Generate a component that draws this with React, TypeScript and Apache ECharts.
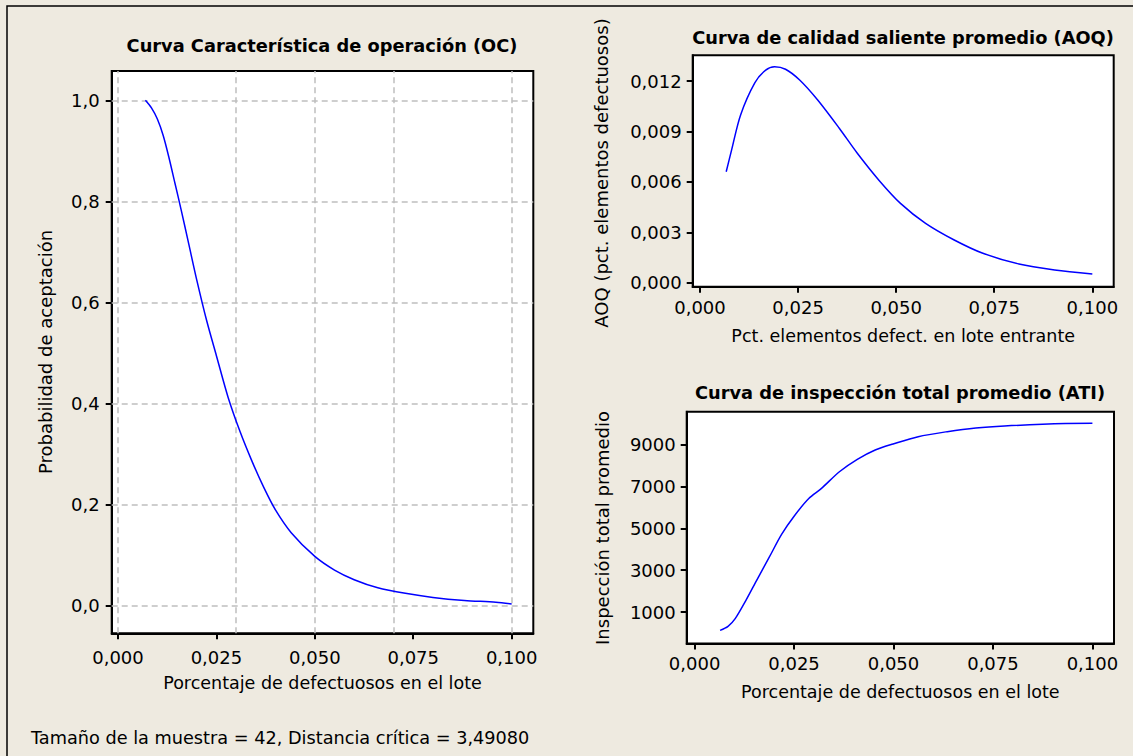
import React, { useEffect, useRef } from "react";
import * as echarts from "echarts";

// ---- Data ----
const ocP = [0.00696, 0.0085, 0.01, 0.0115, 0.013, 0.0145, 0.016, 0.018, 0.02, 0.0225, 0.025, 0.028, 0.031, 0.034, 0.037, 0.04, 0.044, 0.05, 0.055, 0.06, 0.066, 0.073, 0.08, 0.088, 0.096, 0.1];
const ocPa = [1.0, 0.985, 0.963, 0.93, 0.885, 0.835, 0.785, 0.715, 0.645, 0.565, 0.495, 0.412, 0.345, 0.287, 0.235, 0.19, 0.145, 0.098, 0.071, 0.052, 0.036, 0.025, 0.017, 0.011, 0.0075, 0.004];

const aoqP = [0.00668, 0.00806, 0.01035, 0.014, 0.01675, 0.019, 0.0218, 0.0254, 0.03, 0.0355, 0.0401, 0.0456, 0.0511, 0.0575, 0.0648, 0.0721, 0.0813, 0.0904, 0.1];
const aoqV = [0.0066, 0.0079, 0.00998, 0.0119, 0.01265, 0.01285, 0.0127, 0.01206, 0.01087, 0.00919, 0.0077, 0.0061, 0.00472, 0.00353, 0.00254, 0.00175, 0.00111, 0.00076, 0.00052];

const atiP = [0.0064, 0.0084, 0.0102, 0.0129, 0.0156, 0.0188, 0.0219, 0.0251, 0.0287, 0.0319, 0.0364, 0.0409, 0.0454, 0.0499, 0.0562, 0.0635, 0.0707, 0.0779, 0.0932, 0.1];
const atiV = [124, 316, 684, 1560, 2517, 3632, 4720, 5600, 6420, 6904, 7699, 8291, 8737, 9024, 9373, 9612, 9789, 9885, 10000, 10010];

const xTicks = [0, 0.025, 0.05, 0.075, 0.1];
const ocYTicks = [0, 0.2, 0.4, 0.6, 0.8, 1.0];
const aoqYTicks = [0, 0.003, 0.006, 0.009, 0.012];
const atiYTicks = [1000, 3000, 5000, 7000, 9000];

const ocTitle = "Curva Característica de operación (OC)";
const aoqTitle = "Curva de calidad saliente promedio (AOQ)";
const atiTitle = "Curva de inspección total promedio (ATI)";
const ocXName = "Porcentaje de defectuosos en el lote";
const ocYName = "Probabilidad de aceptación";
const aoqXName = "Pct. elementos defect. en lote entrante";
const aoqYName = "AOQ (pct. elementos defectuosos)";
const atiXName = "Porcentaje de defectuosos en el lote";
const atiYName = "Inspección total promedio";
const footer = "Tamaño de la muestra = 42, Distancia crítica = 3,49080";

const FONT = "DejaVu Sans";
const BG = "#EEEAE0";

const comma = (d: number) => (v: number) => v.toFixed(d).replace(".", ",");

function xAxisDef(gridIndex: number, min: number, max: number, name: string, labelMargin: number, nameGap: number) {
  return {
    type: "value",
    gridIndex,
    min,
    max,
    name,
    nameLocation: "middle",
    nameGap,
    nameTextStyle: { fontFamily: FONT, fontSize: 17.5, color: "#000" },
    axisLine: { show: true, onZero: false, lineStyle: { color: "#000", width: 2 } },
    axisTick: { show: true, inside: false, length: 6, customValues: xTicks, lineStyle: { color: "#000", width: 2 } },
    axisLabel: { customValues: xTicks, margin: labelMargin, formatter: comma(3), fontFamily: FONT, fontSize: 18, color: "#000" },
    splitLine: { show: false },
  };
}

function yAxisDef(gridIndex: number, min: number, max: number, ticks: number[], fmt: (v: number) => string, labelMargin: number) {
  return {
    type: "value",
    gridIndex,
    min,
    max,
    axisLine: { show: true, onZero: false, lineStyle: { color: "#000", width: 2 } },
    axisTick: { show: true, inside: false, length: 6, customValues: ticks, lineStyle: { color: "#000", width: 2 } },
    axisLabel: { customValues: ticks, margin: labelMargin, formatter: fmt, fontFamily: FONT, fontSize: 18, color: "#000" },
    splitLine: { show: false },
  };
}

const gridLineStyle = { color: "#BEBEBE", width: 1.5, type: [6, 4] };

export default function App() {
  const ref = useRef<HTMLDivElement>(null);
  useEffect(() => {
    if (!ref.current) return;
    const chart = echarts.init(ref.current, undefined, { renderer: "svg" });
    const gridBox = { show: true, backgroundColor: "#FFFFFF", borderColor: "#000", borderWidth: 2 };
    const ocGridLines = [
      ...xTicks.map((v) => ({ xAxis: v })),
      ...ocYTicks.map((v) => ({ yAxis: v })),
    ];
    const titleFont = `bold 17.8px '${FONT}'`;
    const nameFont = `18px '${FONT}'`;
    chart.setOption({
      animation: false,
      backgroundColor: BG,
      grid: [
        { ...gridBox, left: 111.7, top: 71, width: 421.6, height: 562.3 },
        { ...gridBox, left: 692.7, top: 55.3, width: 421, height: 231.4 },
        { ...gridBox, left: 686.7, top: 411.7, width: 427.3, height: 231.8 },
      ],
      xAxis: [
        xAxisDef(0, -0.0016, 0.1055, ocXName, 15, 41),
        xAxisDef(1, -0.00186, 0.10545, aoqXName, 12, 40),
        xAxisDef(2, -0.00199, 0.10543, atiXName, 11, 39),
      ],
      yAxis: [
        yAxisDef(0, -0.054, 1.058, ocYTicks, comma(1), 12),
        yAxisDef(1, -0.00024, 0.01353, aoqYTicks, comma(3), 11),
        yAxisDef(2, -500, 10565, atiYTicks, (v: number) => String(v), 11),
      ],
      series: [
        {
          type: "line",
          xAxisIndex: 0,
          yAxisIndex: 0,
          data: ocP.map((p, i) => [p, ocPa[i]]),
          showSymbol: false,
          smooth: 0.3,
          lineStyle: { color: "#0000FF", width: 1.5 },
          z: 3,
          markLine: {
            silent: true,
            symbol: "none",
            label: { show: false },
            lineStyle: gridLineStyle,
            data: ocGridLines,
            z: 1,
          },
        },
        {
          type: "line",
          xAxisIndex: 1,
          yAxisIndex: 1,
          data: aoqP.map((p, i) => [p, aoqV[i]]),
          showSymbol: false,
          smooth: 0.3,
          lineStyle: { color: "#0000FF", width: 1.5 },
        },
        {
          type: "line",
          xAxisIndex: 2,
          yAxisIndex: 2,
          data: atiP.map((p, i) => [p, atiV[i]]),
          showSymbol: false,
          smooth: 0.3,
          lineStyle: { color: "#0000FF", width: 1.5 },
        },
      ],
      graphic: [
        { type: "rect", shape: { x: 7, y: 6, width: 1140, height: 770 }, style: { fill: "none", stroke: "#000", lineWidth: 1.5 }, silent: true },
        { type: "text", x: 322, y: 45, style: { text: ocTitle, font: titleFont, fill: "#000", align: "center", verticalAlign: "middle" } },
        { type: "text", x: 903, y: 37, style: { text: aoqTitle, font: titleFont, fill: "#000", align: "center", verticalAlign: "middle" } },
        { type: "text", x: 900, y: 392, style: { text: atiTitle, font: titleFont, fill: "#000", align: "center", verticalAlign: "middle" } },
        { type: "text", x: 45, y: 352, rotation: Math.PI / 2, style: { text: ocYName, font: nameFont, fill: "#000", align: "center", verticalAlign: "middle" } },
        { type: "text", x: 601, y: 173, rotation: Math.PI / 2, style: { text: aoqYName, font: nameFont, fill: "#000", align: "center", verticalAlign: "middle" } },
        { type: "text", x: 602, y: 528, rotation: Math.PI / 2, style: { text: atiYName, font: nameFont, fill: "#000", align: "center", verticalAlign: "middle" } },
        { type: "text", x: 31, y: 738, style: { text: footer, font: `17.7px '${FONT}'`, fill: "#000", align: "left", verticalAlign: "middle" } },
      ],
    });
    return () => chart.dispose();
  }, []);
  return <div ref={ref} style={{ position: "absolute", left: 0, top: 0, width: 1133, height: 756 }} />;
}
